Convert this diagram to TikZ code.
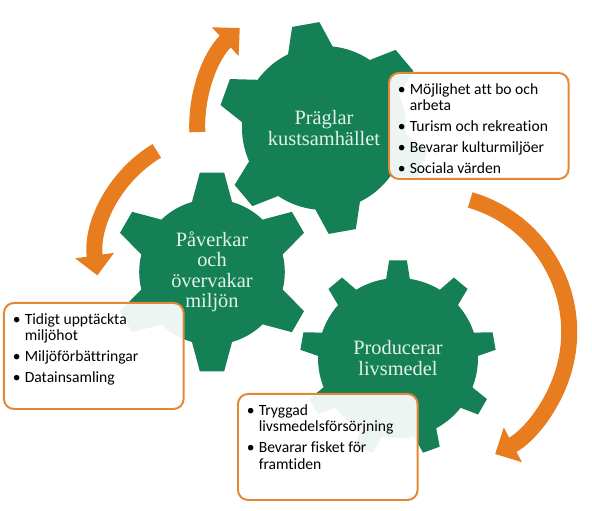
\documentclass[tikz,border=0pt]{standalone}
\usepackage{tikz}
\usepackage{fontspec}
\usetikzlibrary{arrows.meta}
\setmainfont{Liberation Serif}
\newfontfamily\rutafont{Carlito}[Ligatures=NoCommon]

\definecolor{gron}{RGB}{21,128,86}
\definecolor{ljus}{RGB}{226,243,233}
\definecolor{pilorange}{RGB}{232,125,32}
\definecolor{rutkant}{RGB}{228,135,55}

\newcommand{\punkt}{\makebox[0.3cm][l]{\textbullet}}
\newcommand{\indrag}{\hspace*{0.3cm}}
\newcommand{\kugghjul}[7]{%
    \fill[kugg, shift={(#1)}] ({#3-#6}:#4)
        \foreach \k in {1,...,#2}{
            -- ({#3+(\k-1)*360/#2-#7}:#5) -- ({#3+(\k-1)*360/#2+#7}:#5)
            -- ({#3+(\k-1)*360/#2+#6}:#4)
            arc[start angle={#3+(\k-1)*360/#2+#6}, end angle={#3+\k*360/#2-#6}, radius=#4]
        } -- cycle;}

\begin{document}
\begin{tikzpicture}
    \tikzstyle{kugg}=[
        fill = gron
    ]
    \tikzstyle{kuggtext}=[
        text = ljus,
        align = center,
        font = \fontsize{14.5pt}{14.6pt}\selectfont
    ]
    \tikzstyle{ruta}=[
        draw = rutkant,
        line width = 1.4pt,
        rounded corners = 0.25cm,
        fill = white,
        fill opacity = 0.92,
        text opacity = 1,
        inner xsep = 0.22cm,
        inner ysep = 0.26cm,
        anchor = north west,
        font = \rutafont\fontsize{11.1pt}{11.9pt}\selectfont
    ]
    \tikzstyle{pil}=[
        draw = pilorange,
        line width = 0.4cm,
        -{Triangle[width = 0.95cm, length = 0.5cm]}
    ]

    \useasboundingbox (0, 0) rectangle (14.8, 12.75);

    \coordinate (pA) at (8.28, 9.6);
    \coordinate (pB) at (5.53, 6.3);
    \coordinate (pC) at (10.79, 4.45);

    \draw[pil] ([shift={(182.6:3.35)}]pA) arc[start angle=182.6, end angle=133, radius=3.35];
    \draw[pil] ([shift={(121:3.125)}]pB) arc[start angle=121, end angle=188, radius=3.125];
    \draw[pil] ([shift={(73.7:3.44)}]pC) arc[start angle=73.7, end angle=-62.5, radius=3.44];

    \coordinate (g1) at (8.1, 9.55);
    \coordinate (g2) at (5.3, 5.95);
    \coordinate (g3) at (9.95, 3.8);

    \kugghjul{g1}{6}{40}{2.05}{2.65}{16}{7.5}
    \kugghjul{g2}{6}{90}{1.82}{2.5}{16}{7}
    \kugghjul{g3}{9}{90}{2.0}{2.45}{8.5}{5.2}

    \node[kuggtext] (praglar)    at (g1) {Präglar\\kustsamhället};
    \node[kuggtext] (paverkar)   at (g2) {Påverkar\\och\\övervakar\\miljön};
    \node[kuggtext] (producerar) at (g3) {Producerar\\livsmedel};

    \node[ruta] (ruta1) at (9.7, 10.95) {\begin{minipage}[t][2.13cm][t]{4.05cm}\raggedright
        \punkt Möjlighet att bo och\\ \indrag arbeta\\[3pt]
        \punkt Turism och rekreation\\[3pt]
        \punkt Bevarar kulturmiljöer\\[3pt]
        \punkt Sociala värden\end{minipage}};
    \node[ruta] (ruta2) at (0.075, 5.2) {\begin{minipage}[t][2.13cm][t]{4.05cm}\raggedright
        \punkt Tidigt upptäckta\\ \indrag miljöhot\\[3pt]
        \punkt Miljöförbättringar\\[3pt]
        \punkt Datainsamling\end{minipage}};
    \node[ruta] (ruta3) at (5.925, 2.925) {\begin{minipage}[t][2.13cm][t]{4.05cm}\raggedright
        \punkt Tryggad\\ \indrag livsmedelsförsörjning\\[3pt]
        \punkt Bevarar fisket för\\ \indrag framtiden\end{minipage}};

\end{tikzpicture}
\end{document}
